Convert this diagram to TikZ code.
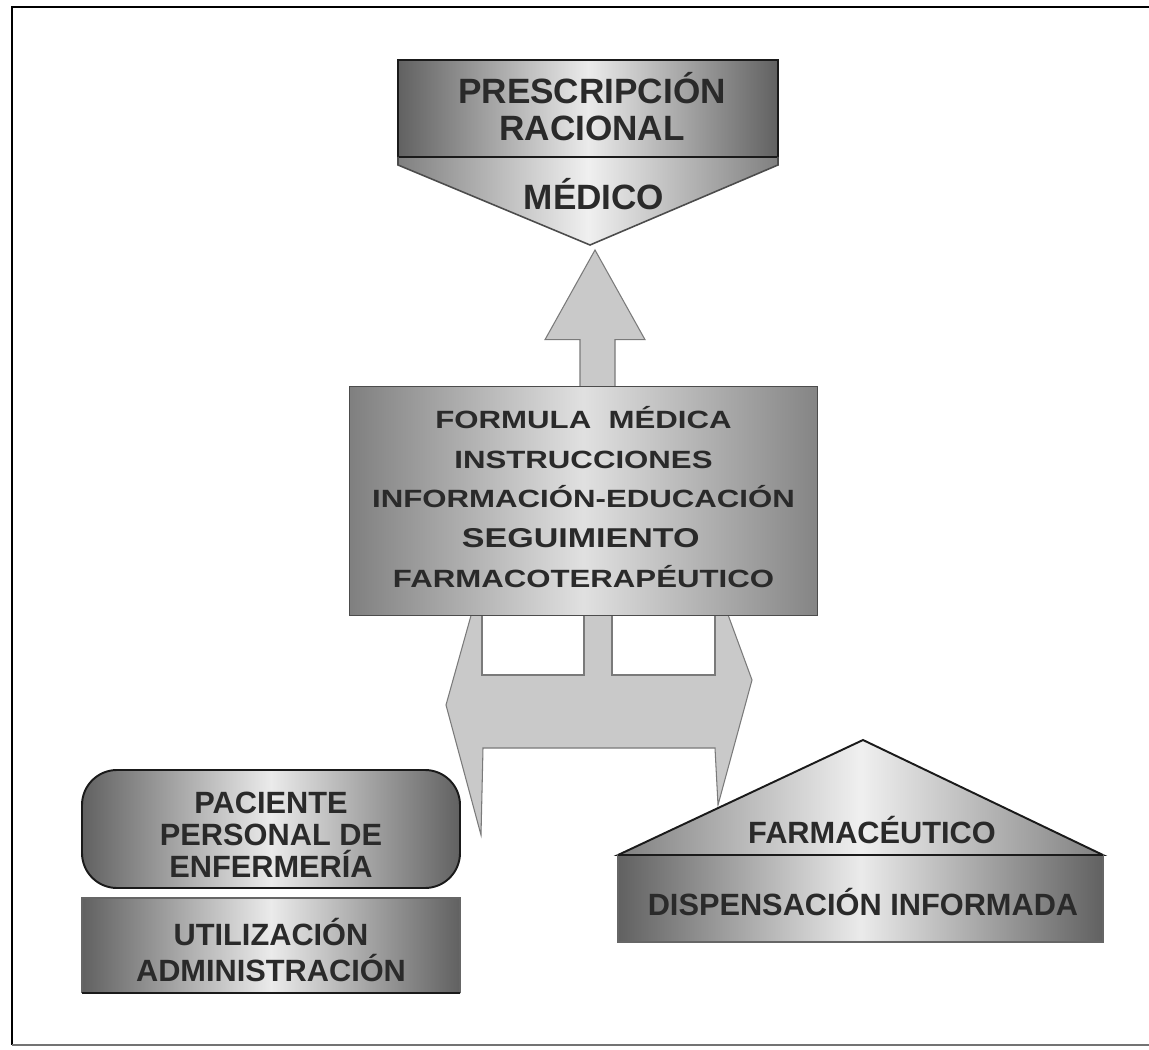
\documentclass[tikz,border=0pt]{standalone}
\usepackage{fontspec}
\setmainfont{Liberation Sans}
\newfontfamily\wide[FakeStretch=1.25]{Liberation Sans}
\usetikzlibrary{calc}
\definecolor{txt}{HTML}{2A2A2A}
\definecolor{edge}{HTML}{1A1A1A}
\definecolor{arrowfill}{HTML}{C9C9C9}
\definecolor{arrowedge}{HTML}{7A7A7A}
\begin{document}
\begin{tikzpicture}[x=0.02cm,y=-0.02cm,
  metal/.style={left color=black!62, right color=black!62, middle color=black!8},
  metallight/.style={left color=black!50, right color=black!50, middle color=black!6},
  lbl/.style={font=\bfseries\fontsize{17.5}{18.2}\selectfont, text=txt, align=center, inner sep=0pt},
  biglbl/.style={font=\bfseries\fontsize{20}{21}\selectfont, text=txt, align=center, inner sep=0pt},
  widelbl/.style={font=\wide\bfseries\fontsize{14.2}{22.7}\selectfont, text=txt, align=center, inner sep=0pt},
  blockarrow/.style={fill=arrowfill, draw=arrowedge, line width=0.6pt},
  outline/.style={draw=edge, line width=1.1pt}]
\useasboundingbox (0,0) rectangle (1149,1050);
\fill[white] (0,0) rectangle (1149,1050);
% frame
\draw[black, line width=1.6pt] (1149,7) -- (12,7) -- (12,1045);
\draw[black!55, line width=1pt] (12,1045) -- (1149,1045);

% middle box node
\node[minimum width=9.34cm, minimum height=4.56cm, inner sep=0pt] (mid) at (583.5,501) {};
% top shape reference coordinates
\coordinate (topapex) at (590,245);

% up arrow (from middle box to top shape)
\path[blockarrow] ($(mid.north)+(-3.5,0)$) -- ++(0,-47) -- ++(-35,0)
   -- ($(topapex)+(5,5)$) -- ($(mid.north)+(61.5,-47)$) -- ++(-30,0) -- ($(mid.north)+(31.5,0)$) -- cycle;

% branching arrow below middle box
\coordinate (bL) at (472,612);
\path[blockarrow] (472,612) -- (446,705) -- (481,835) -- (483,748) -- (715,748)
   -- (718,805) -- (752,680) -- (727,612) -- cycle;
\path[fill=white, draw=arrowedge, line width=1pt] (482,613) -- (482,675) -- (584,675) -- (584,613);
\path[fill=white, draw=arrowedge, line width=1pt] (612,613) -- (612,675) -- (715,675) -- (715,613);
\fill[white] (483,613) rectangle (583,674);
\fill[white] (613,613) rectangle (714,674);

% middle box drawn
\path[left color=black!50, right color=black!48, middle color=black!12, draw=black!70, line width=0.9pt]
  (mid.south west) rectangle (mid.north east);
\node[widelbl] (midtext) at (583.5,497) {FORMULA \ MÉDICA\\INSTRUCCIONES\\INFORMACIÓN-EDUCACIÓN\\{\fontsize{15.5}{22.7}\selectfont\hspace{-0.2em}SEGUIMIENTO}\\FARMACOTERAPÉUTICO};

% top shape
\path[metallight] (398,157) -- (778,157) -- (778,165) -- (topapex) -- (398,165) -- cycle;
\path[metal] (398,60) rectangle (778,157);
\draw[outline] (398,157) -- (398,60) -- (778,60) -- (778,157);
\draw[edge, line width=1.6pt] (398,157) -- (778,157);
\draw[black!70, line width=0.9pt] (398,157) -- (398,165) -- (topapex) -- (778,165) -- (778,157);
\node[biglbl] (presc) at (592,107) {PRESCRIPCIÓN\\RACIONAL};
\node[biglbl] (medico) at (594,194) {MÉDICO};

% left group
\path[metal, outline, rounded corners=0.7cm] (82,770) rectangle (460,888);
\node[lbl] (paciente) at (271,835) {PACIENTE\\PERSONAL DE\\ENFERMERÍA};
\path[metal] (82,898) rectangle (460,993);
\draw[black!60, line width=0.8pt] (82,993) -- (82,898) -- (460,898) -- (460,993);
\draw[edge, line width=1.6pt] (82,993) -- (460,993);
\node[lbl, font=\bfseries\fontsize{17.5}{20.5}\selectfont] (utiliz) at (271,950) {UTILIZACIÓN\\ADMINISTRACIÓN};

% right group
\path[metallight] (618,855) -- (863,740) -- (1103,855) -- cycle;
\draw[outline] (618,855) -- (863,740) -- (1103,855) -- cycle;
\path[metal] (618,855) rectangle (1103,942);
\draw[black!60, line width=0.8pt] (618,855) rectangle (1103,942);
\draw[edge, line width=1.3pt] (618,855) -- (1103,855);
\node[lbl] (farma) at (872,830) {FARMACÉUTICO};
\node[lbl] (disp) at (863,902) {DISPENSACIÓN INFORMADA};
\end{tikzpicture}
\end{document}
